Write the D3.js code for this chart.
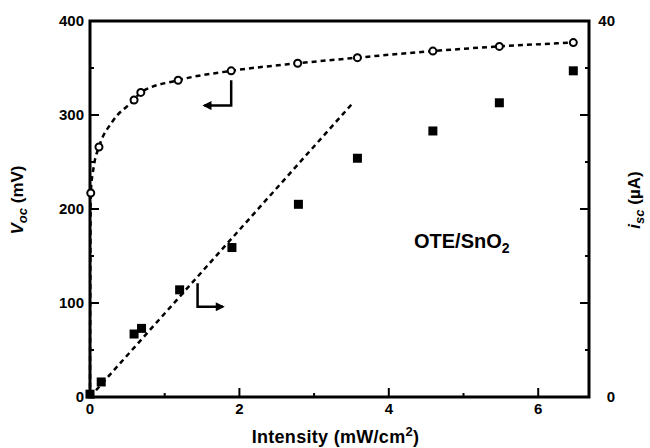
<!DOCTYPE html>
<html>
<head>
<meta charset="utf-8">
<script src="https://cdn.jsdelivr.net/npm/d3@7"></script>
<style>
  body { margin: 0; background: #fff; }
  svg text { font-family: 'Liberation Sans', Arial, sans-serif; font-weight: bold; fill: #000; }
</style>
</head>
<body>
<div id="container"></div>
<script>
// Data (intensity in mW/cm2)
const vocIntensity = [0.01, 0.12, 0.59, 0.68, 1.18, 1.89, 2.78, 3.58, 4.59, 5.48, 6.47];
const vocValues = [217, 266, 316, 324, 337, 347, 355, 361, 368, 373, 377];

const iscIntensity = [0.0, 0.15, 0.59, 0.69, 1.2, 1.9, 2.79, 3.58, 4.59, 5.48, 6.47];
const iscValues = [0.3, 1.6, 6.7, 7.3, 11.4, 15.9, 20.5, 25.4, 28.3, 31.3, 34.7];

// dashed guide lines
const vocFitX = [0, 0.01, 0.05, 0.12, 0.3, 0.59, 0.68, 1.18, 1.89, 2.78, 3.58, 4.59, 5.48, 6.47];
const vocFitY = [0, 217, 245, 266, 293, 316, 324, 337, 347, 355, 361, 368, 373, 377];
const iscFitX = [0, 3.51];
const iscFitY = [0, 31.2];

// axis ticks
const xTicks = [0, 2, 4, 6];
const xMinor = [1, 3, 5];
const vocTicks = [0, 100, 200, 300, 400];
const vocMinor = [50, 150, 250, 350];
const iscTicks = [0, 10, 20, 30, 40];
const iscMinor = [5, 15, 25, 35];
const iscLabels = [0, 40];

// arrow annotations [x, value]
const vocArrow = [[1.89, 337], [1.89, 310], [1.53, 310]];
const iscArrow = [[1.44, 12.1], [1.44, 9.6], [1.78, 9.6]];

const width = 650;
const height = 448;
const margin = { top: 21, right: 61, bottom: 51, left: 90 };

const svg = d3
  .select('#container')
  .append('svg')
  .attr('width', width)
  .attr('height', height);

const x = d3.scaleLinear().domain([0, 6.68]).range([margin.left, width - margin.right]);
const yL = d3.scaleLinear().domain([0, 400]).range([height - margin.bottom, margin.top]);
const yR = d3.scaleLinear().domain([0, 40]).range([height - margin.bottom, margin.top]);

const x0 = x.range()[0], x1 = x.range()[1];
const y0 = yL.range()[0], y1 = yL.range()[1];

// defs: arrowhead
svg.append('defs').append('marker')
  .attr('id', 'head')
  .attr('viewBox', '0 0 10 10')
  .attr('refX', 8).attr('refY', 5)
  .attr('markerWidth', 5).attr('markerHeight', 3.6)
  .attr('orient', 'auto')
  .append('path')
  .attr('d', 'M0,0 L10,5 L0,10 Z')
  .attr('fill', '#000');

// frame
svg.append('rect')
  .attr('x', x0).attr('y', y1)
  .attr('width', x1 - x0).attr('height', y0 - y1)
  .attr('fill', 'none').attr('stroke', '#000').attr('stroke-width', 3);

// ticks
const g = svg.append('g').attr('stroke', '#000').attr('stroke-width', 2);
g.selectAll('.xt').data(xTicks.concat(xMinor)).enter().append('line')
  .attr('x1', d => x(d)).attr('x2', d => x(d))
  .attr('y1', y0).attr('y2', d => y0 - (xTicks.includes(d) ? 9 : 4));
g.selectAll('.yl').data(vocTicks.concat(vocMinor)).enter().append('line')
  .attr('y1', d => yL(d)).attr('y2', d => yL(d))
  .attr('x1', x0).attr('x2', d => x0 + (vocTicks.includes(d) ? 9 : 4));
g.selectAll('.yr').data(iscTicks.concat(iscMinor)).enter().append('line')
  .attr('y1', d => yR(d)).attr('y2', d => yR(d))
  .attr('x1', x1).attr('x2', d => x1 - (iscTicks.includes(d) ? 9 : 4));

// tick labels
svg.selectAll('.xl').data(xTicks).enter().append('text')
  .attr('x', d => x(d)).attr('y', y0 + 17)
  .attr('text-anchor', 'middle').attr('font-size', 15)
  .text(d => d);
svg.selectAll('.ylab').data(vocTicks).enter().append('text')
  .attr('x', x0 - 6).attr('y', d => yL(d) + 5)
  .attr('text-anchor', 'end').attr('font-size', 15)
  .text(d => d);
svg.selectAll('.yrlab').data(iscLabels).enter().append('text')
  .attr('x', x1 + 26).attr('y', d => yR(d) + 5)
  .attr('text-anchor', 'end').attr('font-size', 15)
  .text(d => d);

// axis titles
const xt = svg.append('text')
  .attr('x', (x0 + x1) / 2 - 4).attr('y', 443)
  .attr('text-anchor', 'middle').attr('font-size', 18)
  .attr('letter-spacing', 0.3);
xt.append('tspan').text('Intensity (mW/cm');
xt.append('tspan').attr('dy', -7).attr('font-size', 13).text('2');
xt.append('tspan').attr('dy', 7).text(')');

const lt = svg.append('text')
  .attr('transform', `translate(23, 200) rotate(-90)`)
  .attr('text-anchor', 'middle').attr('font-size', 17);
lt.append('tspan').attr('font-style', 'italic').text('V');
lt.append('tspan').attr('font-style', 'italic').attr('font-size', 13).attr('dy', 4).text('oc');
lt.append('tspan').attr('dy', -4).text('  (mV)');

const rt = svg.append('text')
  .attr('transform', `translate(640, 200) rotate(-90)`)
  .attr('text-anchor', 'middle').attr('font-size', 17);
rt.append('tspan').attr('font-style', 'italic').text('i');
rt.append('tspan').attr('font-style', 'italic').attr('font-size', 13).attr('dy', 4).text('sc');
rt.append('tspan').attr('dy', -4).text('  (\u00b5A)');

// sample label
const st = svg.append('text')
  .attr('x', 414).attr('y', 248).attr('font-size', 20);
st.append('tspan').text('OTE/SnO');
st.append('tspan').attr('font-size', 14).attr('dy', 5).text('2');

// dashed lines
const vocLine = d3.line()
  .x(d => x(d[0])).y(d => yL(d[1]))
  .curve(d3.curveMonotoneX);
svg.append('path')
  .datum(vocFitX.map((v, i) => [v, vocFitY[i]]))
  .attr('d', vocLine)
  .attr('fill', 'none').attr('stroke', '#000')
  .attr('stroke-width', 2.5).attr('stroke-dasharray', '5,4');

const iscLine = d3.line().x(d => x(d[0])).y(d => yR(d[1]));
svg.append('path')
  .datum(iscFitX.map((v, i) => [v, iscFitY[i]]))
  .attr('d', iscLine)
  .attr('fill', 'none').attr('stroke', '#000')
  .attr('stroke-width', 2.5).attr('stroke-dasharray', '5,4');

// arrows
svg.append('path')
  .datum(vocArrow)
  .attr('d', d3.line().x(d => x(d[0])).y(d => yL(d[1])))
  .attr('fill', 'none').attr('stroke', '#000').attr('stroke-width', 2.5)
  .attr('marker-end', 'url(#head)');
svg.append('path')
  .datum(iscArrow)
  .attr('d', d3.line().x(d => x(d[0])).y(d => yR(d[1])))
  .attr('fill', 'none').attr('stroke', '#000').attr('stroke-width', 2.5)
  .attr('marker-end', 'url(#head)');

// Voc points (open circles)
svg.selectAll('.voc').data(vocValues).enter().append('circle')
  .attr('cx', (d, i) => x(vocIntensity[i]))
  .attr('cy', d => yL(d))
  .attr('r', 3.5)
  .attr('fill', '#fff').attr('stroke', '#000').attr('stroke-width', 2);

// Isc points (filled squares)
svg.selectAll('.isc').data(iscValues).enter().append('rect')
  .attr('x', (d, i) => x(iscIntensity[i]) - 4.5)
  .attr('y', d => yR(d) - 4.5)
  .attr('width', 9).attr('height', 9)
  .attr('fill', '#000');
</script>
</body>
</html>
